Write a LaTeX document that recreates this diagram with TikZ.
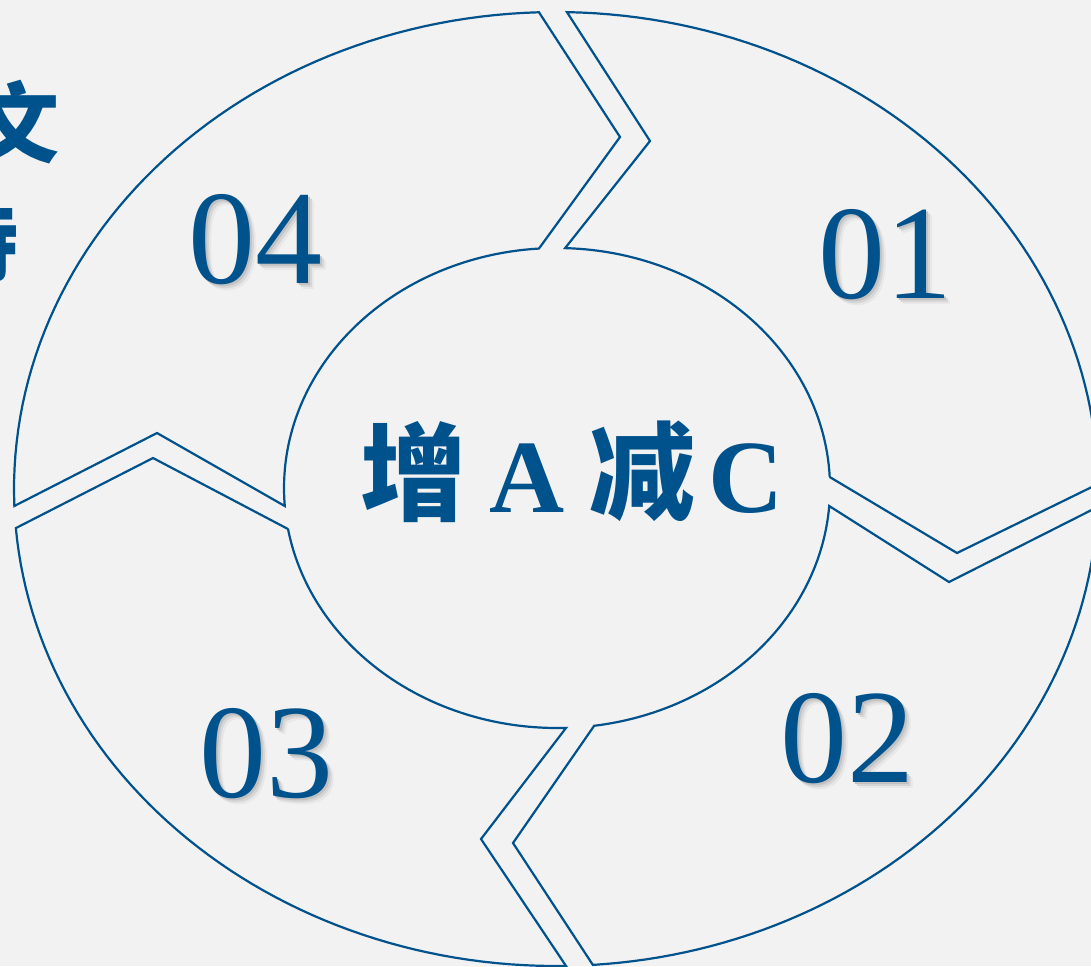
\documentclass[tikz,border=0pt]{standalone}
\usepackage{fontspec}
\setmainfont{Liberation Serif}
\newfontfamily\cjkfont{Noto Sans CJK SC}
\usepackage{xcolor}
\usetikzlibrary{positioning}

\definecolor{r0g82b140}{RGB}{0,82,140}
\definecolor{r242g242b242}{RGB}{242,242,242}

% soft drop shadow behind a number
\newcommand{\shadenum}[1]{%
  \makebox[0pt][l]{\hspace{3pt}\raisebox{-3pt}{\color{black!9}#1}}%
  \makebox[0pt][l]{\hspace{2.2pt}\raisebox{-2.2pt}{\color{black!16}#1}}%
  \makebox[0pt][l]{\hspace{1.4pt}\raisebox{-1.4pt}{\color{black!24}#1}}%
  #1}

\tikzset{
  ringline/.style={line width=1.1pt, draw=r0g82b140, line join=miter},
  numtext/.style={inner sep=0pt, anchor=base, text=r0g82b140, font=\fontsize{67}{67}\selectfont},
  hanzi/.style={inner sep=0pt, text=r0g82b140, font=\cjkfont\bfseries\fontsize{53}{53}\selectfont},
  latin/.style={inner sep=0pt, anchor=base, text=r0g82b140, font=\bfseries\fontsize{52}{52}\selectfont},
  sidetext/.style={inner sep=0pt, anchor=east, text=r0g82b140, font=\cjkfont\bfseries\fontsize{44}{44}\selectfont},
}

\begin{document}
\begin{tikzpicture}[x=0.5pt, y=-0.5pt]
                    % Background
                    \useasboundingbox (0,0) rectangle (1091,966);%
                    \fill [r242g242b242] (0,0) rectangle (1091,966);%
                    \clip (0,0) rectangle (1091,966);%

                    % Side text cut by the frame
                    \node [sidetext] (wen) at (60,122) {文};%
                    \node [sidetext] (shi) at (19,241) {诗};%

                    % Drawing segment 01
                    \draw [ringline] plot [domain=-88.84:-0.60, samples=60, variable=\t] ({556+542*cos(\t)},{489+477*sin(\t)})
                      -- (957,553) -- (829.7,477)
                      -- plot [domain=-2.6:-88.3, samples=60, variable=\t] ({557+273*cos(\t)},{488+240*sin(\t)})
                      -- (650,141) -- cycle;%

                    % Drawing segment 02
                    \draw [ringline] plot [domain=2.16:86.1, samples=60, variable=\t] ({556+542*cos(\t)},{489+477*sin(\t)})
                      -- (513,843) -- (594,726)
                      -- plot [domain=82.2:4.3, samples=60, variable=\t] ({557+273*cos(\t)},{488+240*sin(\t)})
                      -- (949,582) -- cycle;%

                    % Drawing segment 03
                    \draw [ringline] plot [domain=88.94:175.3, samples=60, variable=\t] ({556+542*cos(\t)},{489+477*sin(\t)})
                      -- (153,458) -- (288,529)
                      -- plot [domain=170.2:88.1, samples=60, variable=\t] ({557+273*cos(\t)},{488+240*sin(\t)})
                      -- (481,839) -- cycle;%

                    % Drawing segment 04
                    \draw [ringline] plot [domain=177.96:268.2, samples=60, variable=\t] ({556+542*cos(\t)},{489+477*sin(\t)})
                      -- (620,137) -- (539,248.5)
                      -- plot [domain=266.2:175.7, samples=60, variable=\t] ({557+273*cos(\t)},{488+240*sin(\t)})
                      -- (157,433) -- cycle;%

                    % Marking numbers
                    \node [numtext] (num01) at (885,298) {\shadenum{01}};%
                    \node [numtext] (num02) at (847,782) {\shadenum{02}};%
                    \node [numtext] (num03) at (266,797) {\shadenum{03}};%
                    \node [numtext] (num04) at (255,283) {\shadenum{04}};%

                    % Marking centre text
                    \node [hanzi] (zeng) at (413,472) {增};%
                    \node [latin] (lettera) at (527,512) {A};%
                    \node [hanzi] (jian) at (642,471) {减};%
                    \node [latin] (letterc) at (746,512) {C};%
\end{tikzpicture}
\end{document}
